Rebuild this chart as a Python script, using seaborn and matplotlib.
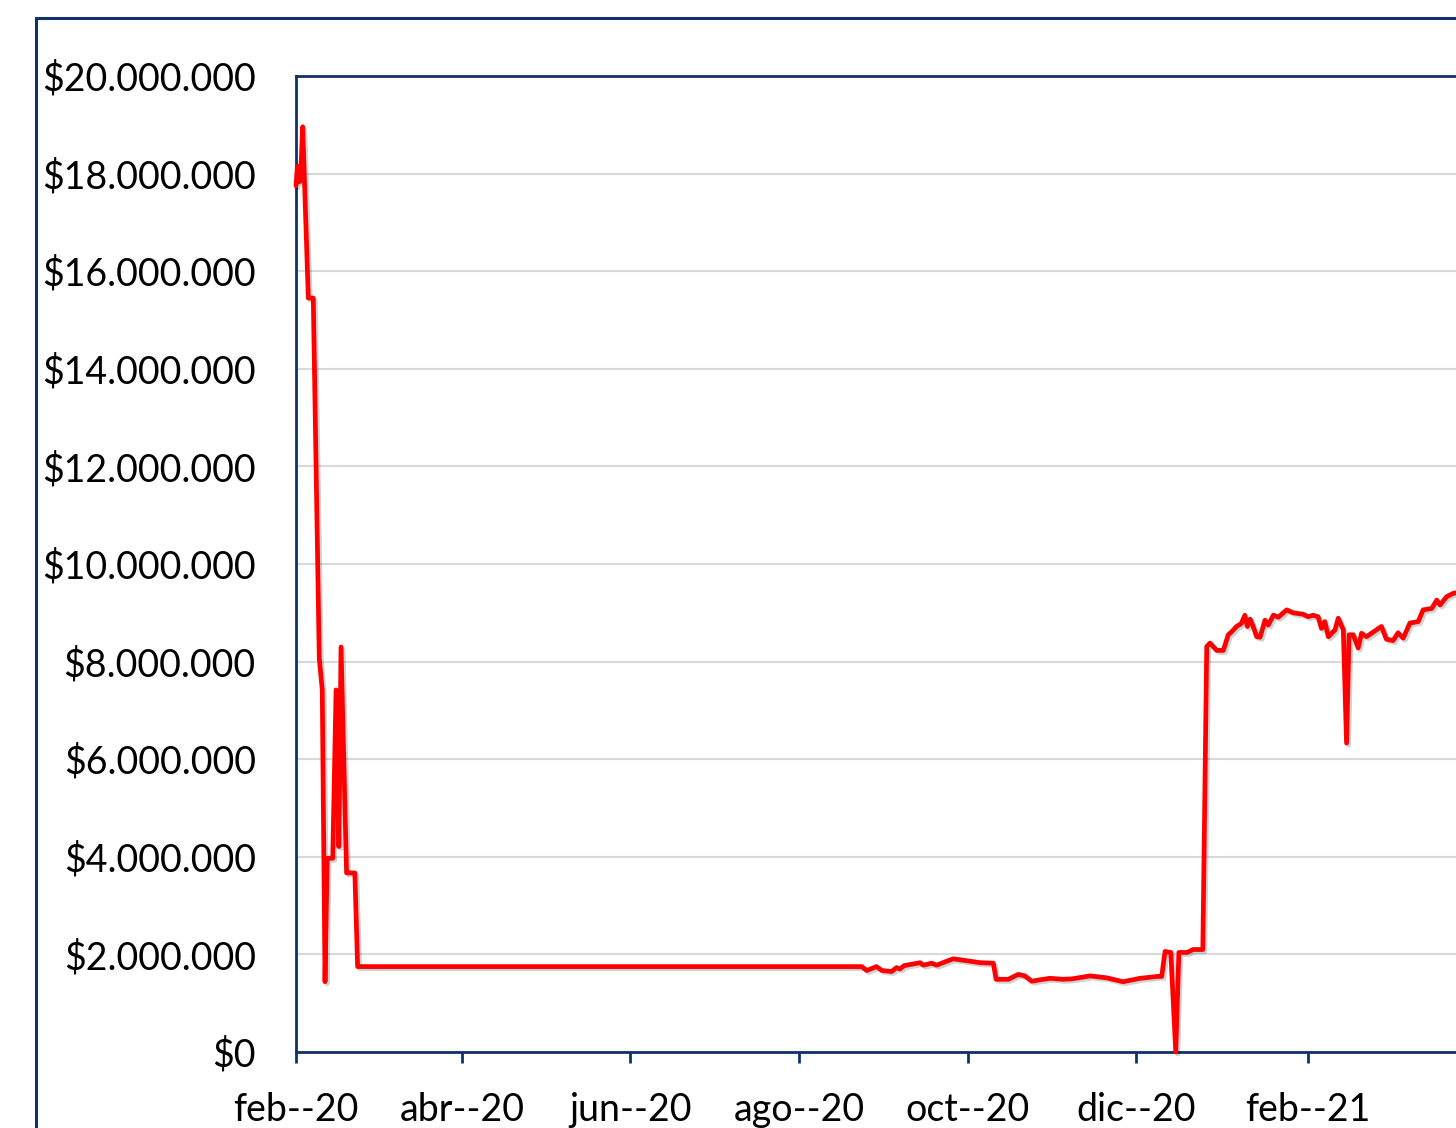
import matplotlib
matplotlib.use("Agg")
import matplotlib.pyplot as plt
import matplotlib.patheffects as pe
from matplotlib.patches import Rectangle
from matplotlib.ticker import FuncFormatter
import pandas as pd
import seaborn as sns

# ---- data (values in millions of pesos) ----
dates = [
    "2020-02-01 00:00", "2020-02-01 12:00", "2020-02-02 02:00", "2020-02-02 14:00",
    "2020-02-03 10:00", "2020-02-05 11:00", "2020-02-07 06:00", "2020-02-09 10:00",
    "2020-02-10 12:00", "2020-02-11 12:00", "2020-02-12 07:00", "2020-02-14 07:00",
    "2020-02-15 12:00", "2020-02-16 12:00", "2020-02-17 07:00", "2020-02-19 07:00",
    "2020-02-22 07:00", "2020-02-23 07:00",
    "2020-08-23 17:00", "2020-08-25 12:00", "2020-08-29 00:00", "2020-08-31 00:00",
    "2020-09-03 12:00", "2020-09-05 07:00", "2020-09-06 12:00", "2020-09-08 00:00",
    "2020-09-13 19:00", "2020-09-15 00:00", "2020-09-18 00:00", "2020-09-19 19:00",
    "2020-09-23 10:00", "2020-09-25 19:00", "2020-09-30 17:00", "2020-10-05 12:00",
    "2020-10-10 07:00", "2020-10-11 07:00", "2020-10-15 17:00", "2020-10-19 07:00",
    "2020-10-21 17:00", "2020-10-24 05:00", "2020-10-27 05:00", "2020-10-30 19:00",
    "2020-11-04 12:00", "2020-11-08 00:00", "2020-11-14 07:00", "2020-11-20 07:00",
    "2020-11-26 05:00", "2020-12-02 10:00", "2020-12-08 22:00", "2020-12-10 05:00",
    "2020-12-11 10:00", "2020-12-13 12:00", "2020-12-15 07:00", "2020-12-16 10:00",
    "2020-12-19 10:00", "2020-12-21 14:00", "2020-12-25 02:00", "2020-12-26 12:00",
    "2020-12-27 17:00", "2020-12-30 02:00", "2021-01-01 12:00", "2021-01-03 07:00",
    "2021-01-04 12:00", "2021-01-06 07:00", "2021-01-08 00:00", "2021-01-09 07:00",
    "2021-01-10 05:00", "2021-01-11 05:00", "2021-01-12 07:00", "2021-01-13 14:00",
    "2021-01-14 19:00", "2021-01-16 14:00", "2021-01-17 19:00", "2021-01-19 14:00",
    "2021-01-21 10:00", "2021-01-24 10:00", "2021-01-26 19:00", "2021-01-30 10:00",
    "2021-02-01 05:00", "2021-02-03 00:00", "2021-02-04 19:00", "2021-02-06 00:00",
    "2021-02-07 05:00", "2021-02-08 12:00", "2021-02-10 22:00", "2021-02-12 02:00",
    "2021-02-13 22:00", "2021-02-15 02:00", "2021-02-16 00:00", "2021-02-17 12:00",
    "2021-02-19 07:00", "2021-02-20 12:00", "2021-02-22 07:00", "2021-02-24 02:00",
    "2021-02-27 17:00", "2021-03-01 12:00", "2021-03-03 22:00", "2021-03-05 17:00",
    "2021-03-07 14:00", "2021-03-10 00:00", "2021-03-13 00:00", "2021-03-14 19:00",
    "2021-03-17 22:00", "2021-03-19 17:00", "2021-03-20 22:00", "2021-03-23 07:00",
    "2021-03-25 17:00", "2021-03-28 00:00",
]
values_m = [
    17.75, 18.15, 17.83, 17.85,
    18.96, 15.45, 15.45, 8.07,
    7.42, 1.44, 3.97, 3.97,
    7.42, 4.21, 8.30, 3.67,
    3.67, 1.75,
    1.75, 1.67, 1.75, 1.67,
    1.65, 1.73, 1.70, 1.77,
    1.83, 1.78, 1.82, 1.78,
    1.86, 1.91, 1.87, 1.83,
    1.82, 1.49, 1.49, 1.59,
    1.56, 1.45, 1.48, 1.51,
    1.49, 1.50, 1.56, 1.52,
    1.44, 1.51, 1.55, 1.55,
    2.06, 2.04, 0.00, 2.04,
    2.04, 2.10, 2.10, 8.31,
    8.38, 8.23, 8.23, 8.55,
    8.61, 8.72, 8.78, 8.95,
    8.72, 8.87, 8.72, 8.51,
    8.50, 8.85, 8.75, 8.95,
    8.91, 9.06, 9.00, 8.97,
    8.92, 8.95, 8.92, 8.68,
    8.82, 8.51, 8.65, 8.89,
    8.65, 6.33, 8.55, 8.55,
    8.28, 8.58, 8.51, 8.58,
    8.72, 8.46, 8.43, 8.59,
    8.48, 8.79, 8.82, 9.06,
    9.09, 9.26, 9.16, 9.33,
    9.40, 9.42,
]
tick_dates = ["2020-02-01", "2020-04-01", "2020-06-01", "2020-08-01",
              "2020-10-01", "2020-12-01", "2021-02-01"]
tick_labels = ["feb--20", "abr--20", "jun--20", "ago--20",
               "oct--20", "dic--20", "feb--21"]
y_ticks_m = [0, 2, 4, 6, 8, 10, 12, 14, 16, 18, 20]

df = pd.DataFrame({"fecha": pd.to_datetime(dates),
                   "valor": [v * 1e6 for v in values_m]})

# ---- style ----
sns.set_theme(style="white")
plt.rcParams["font.family"] = ["Lato", "DejaVu Sans"]
navy = "#12306e"

W, H = 1456, 1128
fig = plt.figure(figsize=(W / 100, H / 100), dpi=100)
fig.patch.set_facecolor("white")

left = 296 / W
bottom = (H - 1052) / H
height = (1052 - 76) / H
width = (425 * 2.764) / W
ax = fig.add_axes([left, bottom, width, height])

# outer chart border (extends past the image)
fig.add_artist(Rectangle((36 / W, -0.5), 2.0, (1 - 18 / H) + 0.5,
                         transform=fig.transFigure, fill=False,
                         edgecolor=navy, linewidth=2.2, zorder=0))

sns.lineplot(data=df, x="fecha", y="valor", ax=ax, color="#ff0000",
             linewidth=3.4, estimator=None, sort=False, zorder=5,
             path_effects=[pe.SimpleLineShadow(offset=(1.5, -1.5), alpha=0.18,
                                               shadow_color="black"),
                           pe.Normal()])
for ln in ax.lines:
    ln.set_clip_on(False)
    ln.set_solid_joinstyle("round")

ax.set_xlim(pd.Timestamp("2020-02-01"), pd.Timestamp("2021-04-01"))
ax.set_ylim(0, 20e6)
ax.set_yticks([v * 1e6 for v in y_ticks_m])
ax.yaxis.set_major_formatter(
    FuncFormatter(lambda v, p: "$" + f"{int(round(v)):,}".replace(",", ".")))
ax.set_xticks(pd.to_datetime(tick_dates))
ax.set_xticklabels(tick_labels)

ax.grid(axis="y", color="#d9d9d9", linewidth=1.5)
ax.grid(axis="x", visible=False)
ax.set_axisbelow(True)
ax.set_xlabel("")
ax.set_ylabel("")

for side in ["left", "top", "bottom", "right"]:
    ax.spines[side].set_color(navy)
    ax.spines[side].set_linewidth(2.0)

ax.tick_params(axis="y", length=0, pad=29, labelsize=27, labelcolor="black")
ax.tick_params(axis="x", length=8, width=2, color=navy, direction="out",
               pad=21, labelsize=27, labelcolor="black", bottom=True)

fig.savefig("out.png", dpi=100, facecolor="white")
